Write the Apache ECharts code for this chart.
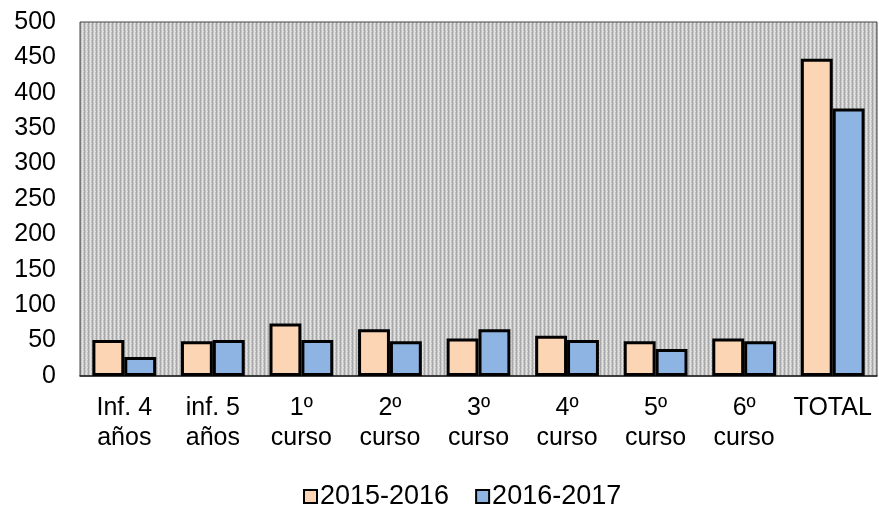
<!DOCTYPE html>
<html>
<head>
<meta charset="utf-8">
<script src="https://cdn.jsdelivr.net/npm/echarts@6/dist/echarts.min.js"></script>
<style>
  html, body { margin: 0; padding: 0; background: #fff; }
  #chart { width: 879px; height: 506px; }
</style>
</head>
<body>
<div id="chart"></div>
<script>
var categories = ['Inf. 4\naños', 'inf. 5\naños', '1º\ncurso', '2º\ncurso', '3º\ncurso', '4º\ncurso', '5º\ncurso', '6º\ncurso', 'TOTAL'];
var seriesNames = ['2015-2016', '2016-2017'];
var values2015 = [51, 49, 74, 66, 53, 57, 49, 53, 448];
var values2016 = [27, 51, 51, 49, 66, 51, 38, 49, 378];

// stippled grey background like the original plot area
function makePattern() {
    var c = document.createElement('canvas');
    c.width = 4; c.height = 4;
    var ctx = c.getContext('2d');
    ctx.fillStyle = '#c4c4c4';
    ctx.fillRect(0, 0, 4, 4);
    ctx.fillStyle = '#a8a8a8';
    ctx.fillRect(0, 0, 1, 4);
    ctx.fillStyle = '#e2e2e2';
    ctx.fillRect(2, 0, 1, 4);
    ctx.fillStyle = '#d6d6d6';
    ctx.fillRect(1, 1, 1, 1);
    ctx.fillRect(3, 3, 1, 1);
    return c;
}

var myChart = echarts.init(document.getElementById('chart'));
var font = 'Liberation Sans';

var option = {
    animation: false,
    textStyle: { fontFamily: font },
    grid: {
        left: 80, right: 2, top: 22, bottom: 130,
        show: true,
        backgroundColor: { image: makePattern(), repeat: 'repeat' },
        borderColor: '#444',
        borderWidth: 1
    },
    legend: {
        top: 478,
        left: 298,
        itemWidth: 13,
        itemHeight: 13,
        itemGap: 26,
        icon: 'rect',
        textStyle: { fontFamily: font, fontSize: 27, color: '#000', padding: [0, 0, 0, -2] },
        data: seriesNames
    },
    xAxis: {
        type: 'category',
        data: categories,
        axisLine: { lineStyle: { color: '#222', width: 1.5 } },
        axisTick: { show: false },
        axisLabel: {
            color: '#000', fontSize: 25, fontFamily: font,
            lineHeight: 30, margin: 17, interval: 0
        }
    },
    yAxis: {
        type: 'value',
        min: 0, max: 500, interval: 50,
        axisLine: { show: false },
        axisTick: { show: false },
        splitLine: { show: false },
        axisLabel: { color: '#000', fontSize: 25, fontFamily: font, margin: 24 }
    },
    series: [
        {
            name: seriesNames[0],
            type: 'bar',
            data: values2015,
            barWidth: '36%',
            barGap: '0%',
            itemStyle: { color: '#FCD5B5', borderColor: '#000', borderWidth: 3 }
        },
        {
            name: seriesNames[1],
            type: 'bar',
            data: values2016,
            barWidth: '36%',
            itemStyle: { color: '#8EB4E3', borderColor: '#000', borderWidth: 3 }
        }
    ]
};

myChart.setOption(option);
</script>
</body>
</html>
